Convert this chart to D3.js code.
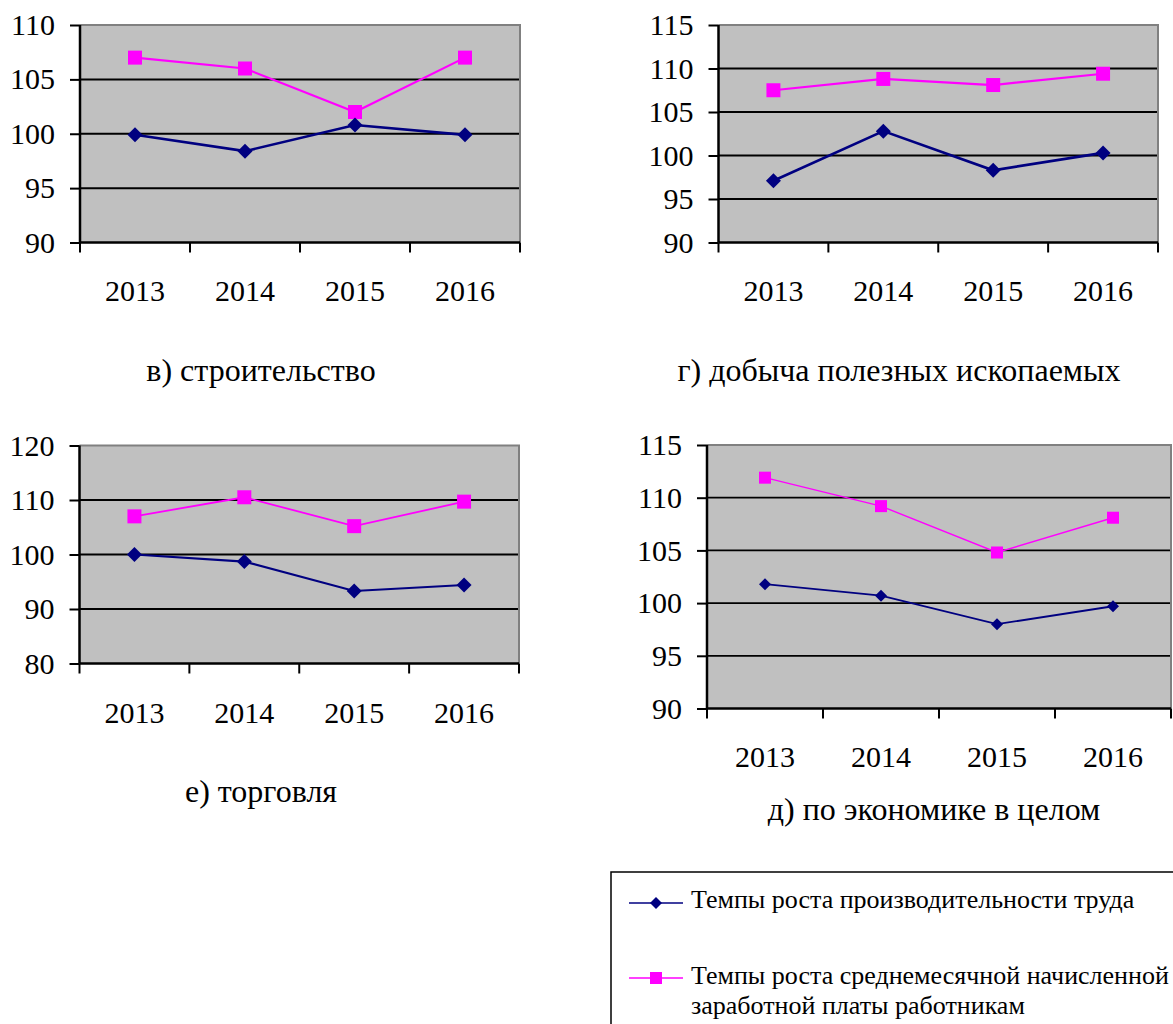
<!DOCTYPE html>
<html>
<head>
<meta charset="utf-8">
<script src="https://cdn.jsdelivr.net/npm/d3@7"></script>
<style>
  html, body { margin: 0; padding: 0; background: #ffffff; }
  svg { display: block; }
  svg text { font-family: "Liberation Serif", "Times New Roman", Times, Tinos, "DejaVu Serif", serif !important; }
</style>
</head>
<body>
<svg id="chart" width="1173" height="1024"></svg>
<script>
// ---------------- DATA ----------------
const categories = ["2013", "2014", "2015", "2016"];
const seriesNames = [
  "Темпы роста производительности труда",
  "Темпы роста среднемесячной начисленной",
  "заработной платы работникам"
];

// в) строительство
const buildTicks = [90, 95, 100, 105, 110];
const buildProductivity = [99.9, 98.4, 100.8, 99.9];
const buildWages = [107.0, 106.0, 102.0, 107.0];

// г) добыча полезных ископаемых
const miningTicks = [90, 95, 100, 105, 110, 115];
const miningProductivity = [97.1, 102.8, 98.3, 100.3];
const miningWages = [107.5, 108.8, 108.1, 109.4];

// е) торговля
const tradeTicks = [80, 90, 100, 110, 120];
const tradeProductivity = [100.0, 98.7, 93.3, 94.4];
const tradeWages = [107.0, 110.5, 105.2, 109.7];

// д) по экономике в целом
const economyTicks = [90, 95, 100, 105, 110, 115];
const economyProductivity = [101.8, 100.7, 98.0, 99.7];
const economyWages = [111.9, 109.2, 104.8, 108.1];

const panelTitles = ["в) строительство", "г) добыча полезных ископаемых", "е) торговля", "д) по экономике в целом"];

// ---------------- STYLE / LAYOUT ----------------
const BLUE = "#000080", PINK = "#FF00FF", PLOT_BG = "#C0C0C0";
const SERIF = "'Liberation Serif', 'Times New Roman', Times, Tinos, 'DejaVu Serif', serif";

const panels = [
  { ticks: buildTicks, prod: buildProductivity, wage: buildWages, title: panelTitles[0],
    left: 80, right: 520, top: 25, bottom: 242.5, yearY: 301, titleX: 261, titleY: 381,
    grid: 2, blueW: 2.6, pinkW: 2.2, dia: 7.5, sq: 14 },
  { ticks: miningTicks, prod: miningProductivity, wage: miningWages, title: panelTitles[1],
    left: 718.5, right: 1158, top: 25, bottom: 242.5, yearY: 301, titleX: 899, titleY: 381,
    grid: 2, blueW: 2.6, pinkW: 2.2, dia: 7.5, sq: 14 },
  { ticks: tradeTicks, prod: tradeProductivity, wage: tradeWages, title: panelTitles[2],
    left: 79.5, right: 519, top: 445.5, bottom: 663.5, yearY: 723, titleX: 261, titleY: 802,
    grid: 2, blueW: 2.2, pinkW: 1.8, dia: 7.5, sq: 14 },
  { ticks: economyTicks, prod: economyProductivity, wage: economyWages, title: panelTitles[3],
    left: 707, right: 1171, top: 445, bottom: 708.5, yearY: 767, titleX: 934, titleY: 820,
    grid: 1.7, blueW: 1.8, pinkW: 1.4, dia: 6, sq: 12 }
];

const svg = d3.select("#chart").attr("font-family", SERIF);

function diamondPath(r) {
  return `M0,${-r}L${r},0L0,${r}L${-r},0Z`;
}

panels.forEach(p => {
  const g = svg.append("g");
  const x = d3.scaleBand().domain(categories).range([p.left, p.right]).padding(0);
  const y = d3.scaleLinear().domain(d3.extent(p.ticks)).range([p.bottom, p.top]);

  g.append("rect")
    .attr("x", p.left).attr("y", p.top)
    .attr("width", p.right - p.left).attr("height", p.bottom - p.top)
    .attr("fill", PLOT_BG);

  g.selectAll(".grid").data(p.ticks.slice(1, -1)).join("line")
    .attr("x1", p.left).attr("x2", p.right)
    .attr("y1", d => y(d)).attr("y2", d => y(d))
    .attr("stroke", "#000").attr("stroke-width", p.grid);

  g.append("path")
    .attr("d", `M${p.left},${p.top}H${p.right}V${p.bottom}`)
    .attr("fill", "none").attr("stroke", "#808080").attr("stroke-width", 2);

  const yAxis = g.append("g")
    .attr("transform", `translate(${p.left},0)`)
    .call(d3.axisLeft(y).tickValues(p.ticks).tickSize(10).tickPadding(15).tickFormat(d3.format("d")));
  yAxis.attr("font-family", SERIF);
  yAxis.select(".domain").attr("stroke", "#000").attr("stroke-width", 2.5)
    .attr("d", `M0,${p.top}V${p.bottom}`);
  yAxis.selectAll(".tick line").attr("stroke", "#000").attr("stroke-width", 2);
  yAxis.selectAll(".tick text")
    .attr("font-size", 30).attr("fill", "#000");

  g.append("line")
    .attr("x1", p.left).attr("x2", p.right)
    .attr("y1", p.bottom).attr("y2", p.bottom)
    .attr("stroke", "#000").attr("stroke-width", 2.5);

  const edges = categories.map(c => x(c)).concat([x(categories[categories.length - 1]) + x.bandwidth()]);
  g.selectAll(".xtick").data(edges).join("line")
    .attr("x1", d => d).attr("x2", d => d)
    .attr("y1", p.bottom).attr("y2", p.bottom + 10)
    .attr("stroke", "#000").attr("stroke-width", 2);

  g.selectAll(".year").data(categories).join("text")
    .attr("x", d => x(d) + x.bandwidth() / 2)
    .attr("y", p.yearY)
    .attr("text-anchor", "middle")
    .attr("font-size", 30)
    .attr("fill", "#000")
    .text(d => d);

  const cx = (d, i) => x(categories[i]) + x.bandwidth() / 2;
  const line = d3.line().x((d, i) => cx(d, i)).y(d => y(d));

  g.append("path").datum(p.wage)
    .attr("d", line).attr("fill", "none")
    .attr("stroke", PINK).attr("stroke-width", p.pinkW);
  g.append("path").datum(p.prod)
    .attr("d", line).attr("fill", "none")
    .attr("stroke", BLUE).attr("stroke-width", p.blueW);

  g.selectAll(".sq").data(p.wage).join("rect")
    .attr("x", (d, i) => cx(d, i) - p.sq / 2)
    .attr("y", d => y(d) - p.sq / 2)
    .attr("width", p.sq).attr("height", p.sq)
    .attr("fill", PINK);

  g.selectAll(".dia").data(p.prod).join("path")
    .attr("transform", (d, i) => `translate(${cx(d, i)},${y(d)})`)
    .attr("d", diamondPath(p.dia))
    .attr("fill", BLUE);

  g.append("text")
    .attr("x", p.titleX).attr("y", p.titleY)
    .attr("text-anchor", "middle")
    .attr("font-size", 32)
    .attr("fill", "#000")
    .text(p.title);
});

// ---------------- LEGEND ----------------
const lg = svg.append("g");
lg.append("rect")
  .attr("x", 611).attr("y", 872)
  .attr("width", 700).attr("height", 300)
  .attr("fill", "#fff").attr("stroke", "#000").attr("stroke-width", 1.5);

const legendItems = [
  { color: BLUE, kind: "diamond", lineY: 903, lines: [seriesNames[0]], textY: 908 },
  { color: PINK, kind: "square", lineY: 978, lines: [seriesNames[1], seriesNames[2]], textY: 984 }
];

legendItems.forEach(it => {
  lg.append("line")
    .attr("x1", 629).attr("x2", 683)
    .attr("y1", it.lineY).attr("y2", it.lineY)
    .attr("stroke", it.color).attr("stroke-width", 1.5);
  if (it.kind === "diamond") {
    lg.append("path")
      .attr("transform", `translate(656,${it.lineY})`)
      .attr("d", diamondPath(6))
      .attr("fill", it.color);
  } else {
    lg.append("rect")
      .attr("x", 650).attr("y", it.lineY - 6)
      .attr("width", 12).attr("height", 12)
      .attr("fill", it.color);
  }
  const t = lg.append("text")
    .attr("x", 691).attr("y", it.textY)
    .attr("font-size", 26)
    .attr("fill", "#000");
  it.lines.forEach((s, k) => {
    t.append("tspan").attr("x", 691).attr("dy", k === 0 ? 0 : 30).text(s);
  });
});
</script>
</body>
</html>
